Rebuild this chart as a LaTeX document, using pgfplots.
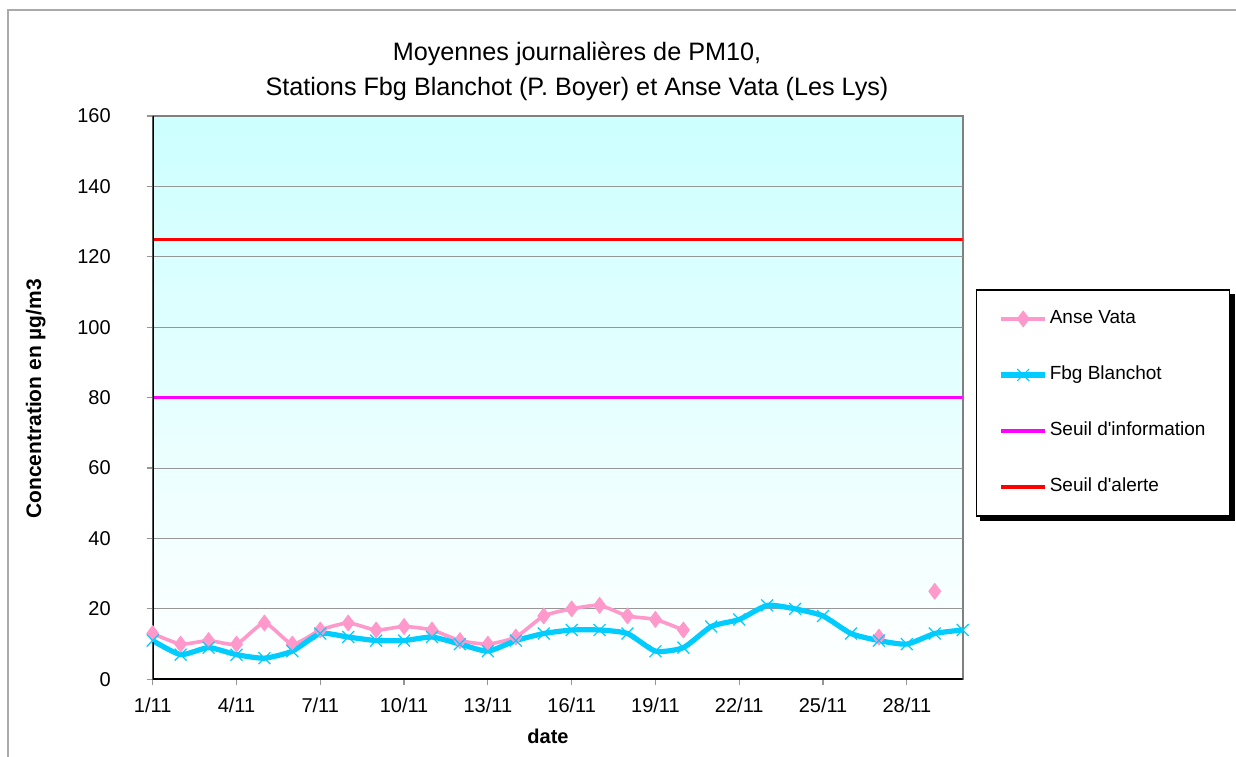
\documentclass[border=0pt]{standalone}
\usepackage{pgfplots}
\pgfplotsset{compat=1.18}
\usepackage{fontspec}
\setmainfont{Liberation Sans}
\definecolor{anse}{RGB}{255,153,204}
\definecolor{fbg}{RGB}{0,204,255}
\definecolor{bgtop}{RGB}{204,255,255}
\definecolor{frame}{RGB}{170,170,170}
\definecolor{gridgray}{RGB}{150,150,150}
\definecolor{seuilinfo}{RGB}{255,0,255}
\definecolor{seuilalerte}{RGB}{255,0,0}
\pgfdeclarelayer{background}
\pgfsetlayers{background,main}
\begin{document}
\begin{tikzpicture}
\useasboundingbox (0,0) rectangle (618pt,378pt);
\draw[frame, line width=0.6pt] (4pt,-5pt) -- (4pt,373pt) -- (630pt,373pt);
\foreach \i in {0,...,59}{
  \pgfmathtruncatemacro{\p}{(\i+0.5)*100/60}
  \pgfmathsetmacro{\ya}{38.35+\i*4.694167}
  \pgfmathsetmacro{\yb}{\ya+4.994167}
  \fill[bgtop!\p!white] (76.35pt,\ya pt) rectangle (481.35pt,\yb pt);
}
\begin{axis}[
  at={(76.35pt,38.35pt)}, anchor=south west,
  scale only axis, width=405pt, height=281.65pt,
  xmin=1, xmax=30, ymin=0, ymax=160,
  xtick={1,4,7,10,13,16,19,22,25,28},
  xticklabels={1/11,4/11,7/11,10/11,13/11,16/11,19/11,22/11,25/11,28/11},
  ytick={0,20,40,60,80,100,120,140,160},
  xtick pos=left, ytick pos=left,
  tick align=outside, major tick length=3pt,
  xtick style={draw=gridgray, line width=0.6pt},
  ytick style={draw=gridgray, line width=0.6pt},
  grid=none,
  axis line style={draw=gray, line width=1pt},
  /pgf/number format/assume math mode=true,
  tick label style={font=\fontsize{10}{12}\selectfont},
  yticklabel style={xshift=-14.5pt},
  xticklabel style={yshift=-3pt},
  title={Moyennes journalières de PM10,\\Stations Fbg Blanchot (P. Boyer) et Anse Vata (Les Lys)},
  title style={at={(axis description cs:0.5238,1.0576)}, anchor=center, align=center,
    font=\fontsize{12.6}{17.5}\selectfont},
  xlabel={date},
  xlabel style={at={(axis description cs:0.488,-0.1007)}, anchor=center, font=\fontsize{10}{12}\selectfont\bfseries},
  ylabel={Concentration en µg/m3},
  ylabel style={at={(axis description cs:-0.1445,0.4976)}, anchor=center, rotate=0, font=\fontsize{10.5}{12}\selectfont\bfseries},
  unbounded coords=jump,
  legend cell align=left,
  legend image code/.code={\draw[mark repeat=2,mark phase=2] plot coordinates {(0pt,0pt) (11pt,0pt) (22pt,0pt)};},
  legend style={at={(axis description cs:1.0164,0.6923)}, anchor=north west,
    name=leg,
    draw=black, fill=white, line width=0.6pt,
    inner xsep=11pt, inner ysep=9pt, row sep=17pt,
    font=\fontsize{9.5}{11}\selectfont,
    nodes={inner sep=1pt, text height=7pt, text depth=2pt}},
]
% horizontal grid lines
\addplot[gridgray, line width=0.4pt, no marks, forget plot] coordinates {(1,20) (30,20)};
\addplot[gridgray, line width=0.4pt, no marks, forget plot] coordinates {(1,40) (30,40)};
\addplot[gridgray, line width=0.4pt, no marks, forget plot] coordinates {(1,60) (30,60)};
\addplot[gridgray, line width=0.4pt, no marks, forget plot] coordinates {(1,80) (30,80)};
\addplot[gridgray, line width=0.4pt, no marks, forget plot] coordinates {(1,100) (30,100)};
\addplot[gridgray, line width=0.4pt, no marks, forget plot] coordinates {(1,120) (30,120)};
\addplot[gridgray, line width=0.4pt, no marks, forget plot] coordinates {(1,140) (30,140)};
\addplot[anse, line width=1.8pt, line join=round, smooth, tension=0.35, mark=diamond*, mark size=4pt, mark options={fill=anse, draw=anse, line width=0.4pt}]
coordinates {(1,13) (2,10) (3,11) (4,10) (5,16) (6,10) (7,14) (8,16) (9,14) (10,15) (11,14) (12,11) (13,10) (14,12) (15,18) (16,20) (17,21) (18,18) (19,17) (20,14) (21,nan) (22,nan) (23,nan) (24,nan) (25,nan) (26,nan) (27,12) (28,nan) (29,25) (30,nan)};
\addlegendentry{Anse Vata}
\addplot[fbg, line width=2.6pt, line join=round, smooth, tension=0.35, mark=x, mark size=4.2pt, mark options={line width=0.6pt}]
coordinates {(1,11) (2,7) (3,9) (4,7) (5,6) (6,8) (7,13) (8,12) (9,11) (10,11) (11,12) (12,10) (13,8) (14,11) (15,13) (16,14) (17,14) (18,13) (19,8) (20,9) (21,15) (22,17) (23,21) (24,20) (25,18) (26,13) (27,11) (28,10) (29,13) (30,14)};
\addlegendentry{Fbg Blanchot}
\addplot[seuilinfo, line width=1.6pt, no marks] coordinates {(1,80) (30,80)};
\addlegendentry{Seuil d\textquotesingle information}
\addplot[seuilalerte, line width=1.6pt, no marks] coordinates {(1,125) (30,125)};
\addlegendentry{Seuil d\textquotesingle alerte}
\draw[black, line width=1pt] (rel axis cs:0,1) -- (rel axis cs:0,0) -- (rel axis cs:1,0);
\end{axis}
\begin{pgfonlayer}{background}
\fill[black] ([shift={(2.2pt,-2.2pt)}]leg.south west) rectangle ([shift={(2.2pt,-2.2pt)}]leg.north east);
\end{pgfonlayer}
\end{tikzpicture}
\end{document}
